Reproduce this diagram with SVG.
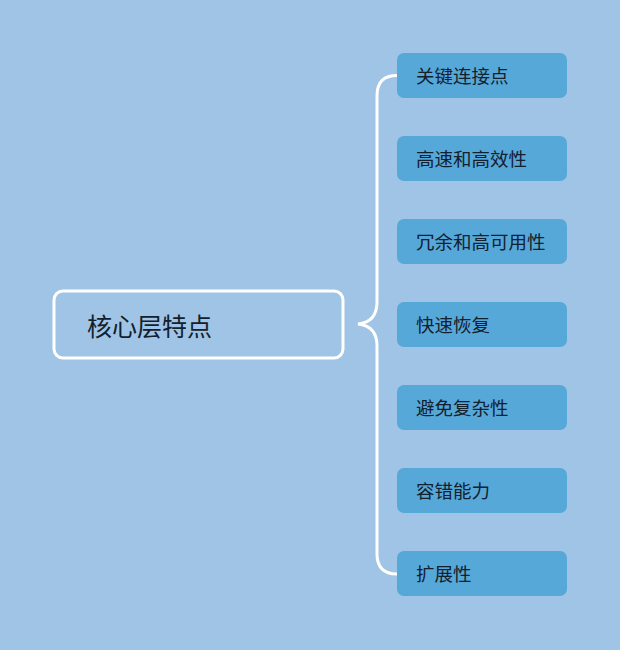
<svg xmlns="http://www.w3.org/2000/svg" width="620" height="650" viewBox="0 0 620 650">
<style>
.bg{fill:#a0c4e5}
.child rect{fill:#56a8d9}
.child text{font-family:"Noto Sans CJK SC","Noto Sans",sans-serif;font-size:18.5px;fill:#13202e}
.root text{font-family:"Noto Sans CJK SC","Noto Sans",sans-serif;font-size:25px;fill:#13202e}
.conn{fill:none;stroke:#ffffff;stroke-width:3;stroke-linecap:round}
</style>
<rect class="bg" x="0" y="0" width="620" height="650"/>
<g id="connectors">
<path class="conn" d="M397,75.5 Q377,75.5 377,95.5 L377,302 Q377,322 358,324 Q377,326 377,346 L377,554 Q377,574 397,574"/>
</g>
<g id="root" class="root">
<rect x="54" y="291" width="289" height="67" rx="9" fill="#a0c4e5" stroke="#ffffff" stroke-width="3"/>
<text x="87" y="336">核心层特点</text>
</g>
<g id="n1" class="child"><rect x="397" y="53" width="170" height="45" rx="7"/><text x="416" y="82.5">关键连接点</text></g>
<g id="n2" class="child"><rect x="397" y="136" width="170" height="45" rx="7"/><text x="416" y="165.5">高速和高效性</text></g>
<g id="n3" class="child"><rect x="397" y="219" width="170" height="45" rx="7"/><text x="416" y="248.5">冗余和高可用性</text></g>
<g id="n4" class="child"><rect x="397" y="302" width="170" height="45" rx="7"/><text x="416" y="331.5">快速恢复</text></g>
<g id="n5" class="child"><rect x="397" y="385" width="170" height="45" rx="7"/><text x="416" y="414.5">避免复杂性</text></g>
<g id="n6" class="child"><rect x="397" y="468" width="170" height="45" rx="7"/><text x="416" y="497.5">容错能力</text></g>
<g id="n7" class="child"><rect x="397" y="551" width="170" height="45" rx="7"/><text x="416" y="580.5">扩展性</text></g>
</svg>
